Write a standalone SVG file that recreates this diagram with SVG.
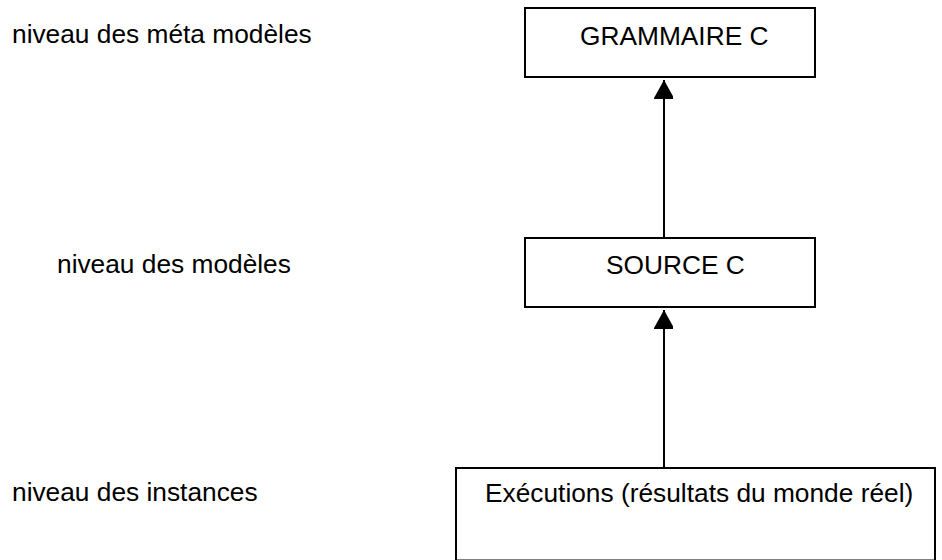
<svg xmlns="http://www.w3.org/2000/svg" width="942" height="560" viewBox="0 0 942 560">
<style>
text{font-family:"Liberation Sans",Arial,sans-serif;font-size:26.3px;fill:#000}
.box{fill:#fff;stroke:#000;stroke-width:2}
.conn{stroke:#000;stroke-width:2;fill:none}
</style>
<defs>
<marker id="arr" viewBox="0 0 21 19" refX="19" refY="10.5" markerWidth="21" markerHeight="19" markerUnits="userSpaceOnUse" orient="auto">
<path d="M0,0 L19,10.5 L0,21 Z" fill="#000"/>
</marker>
</defs>
<rect width="942" height="560" fill="#fff"/>
<g id="labels">
<text x="12" y="43">niveau des méta modèles</text>
<text x="57" y="273">niveau des modèles</text>
<text x="12" y="501">niveau des instances</text>
</g>
<g id="grammaire">
<rect class="box" x="525" y="8" width="290" height="69"/>
<text x="580" y="45">GRAMMAIRE C</text>
</g>
<g id="source">
<rect class="box" x="525" y="238" width="290" height="69"/>
<text x="606" y="274">SOURCE C</text>
</g>
<g id="executions">
<rect class="box" x="456" y="468" width="479" height="92.5"/>
<text x="485" y="502">Exécutions (résultats du monde réel)</text>
</g>
<g id="connectors">
<line class="conn" x1="664" y1="237" x2="664" y2="80" marker-end="url(#arr)"/>
<line class="conn" x1="664" y1="467" x2="664" y2="310" marker-end="url(#arr)"/>
</g>
</svg>
